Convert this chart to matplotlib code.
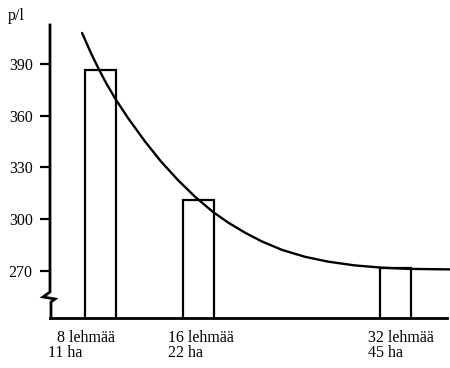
import numpy as np
import matplotlib.pyplot as plt

# bars: herd size (cows) and price per litre
cows = [8, 16, 32]
prices = [386.5, 311.2, 271.6]
labels_top = ["8 lehmää", "16 lehmää", "32 lehmää"]
labels_bottom = ["11 ha", "22 ha", "45 ha"]

# cost curve
curve_x = [6.50, 7.23, 7.88, 8.45, 9.18, 10.24, 11.62, 12.92, 14.30, 15.68, 17.15,
           18.37, 19.75, 21.13, 22.76, 24.63, 26.50, 28.69, 30.89, 33.00, 36.41]
curve_y = [408.0, 396.2, 386.7, 379.0, 370.1, 358.6, 345.0, 333.4, 322.6, 313.0, 304.1,
           298.0, 292.1, 287.0, 282.1, 278.1, 275.3, 273.1, 271.8, 271.1, 270.8]

yticks = [270, 300, 330, 360, 390]

# label offsets in pixels from the bar centre (first line, second line)
offs_top = [-44, -31, -28]
offs_bottom = [-53, -31, -28]

plt.rcParams['font.family'] = ['Liberation Serif', 'DejaVu Serif']

fig = plt.figure(figsize=(4.5, 3.68), dpi=100)
ax = fig.add_axes([50 / 450, 1 - 318 / 368, 397 / 450, 293 / 368])

ax.bar(cows, prices, width=2.52, bottom=0, color='white', edgecolor='black',
       linewidth=1.6, zorder=2)
ax.plot(curve_x, curve_y, color='black', linewidth=1.7, clip_on=False,
        solid_joinstyle='round', solid_capstyle='round', zorder=3)

ax.set_xlim(3.894, 36.17)
ax.set_ylim(242.6, 412.6)

ax.set_yticks(yticks)
ax.tick_params(axis='y', length=7, width=1.6, pad=5.5, labelsize=11.5)
ax.set_xticks([])

for s in ['top', 'right', 'left']:
    ax.spines[s].set_visible(False)
ax.spines['bottom'].set_linewidth(2)

# left axis with break mark (axes coordinates)
h = 293.0
brk_x = [0, 0, -7 / 397, 5 / 397, 1 / 397, 1 / 397]
brk_y = [1, (318 - 292) / h, (318 - 297) / h, (318 - 299) / h, (318 - 302) / h, 0]
ax.plot(brk_x, brk_y, color='black', linewidth=2, transform=ax.transAxes,
        clip_on=False, solid_joinstyle='miter')

# category labels under the axis
for c, t1, t2, o1, o2 in zip(cows, labels_top, labels_bottom, offs_top, offs_bottom):
    ax.annotate(t1, xy=(c, 0), xycoords=('data', 'axes fraction'),
                xytext=(o1, -20), textcoords='offset pixels',
                fontsize=11.5, ha='left', va='center')
    ax.annotate(t2, xy=(c, 0), xycoords=('data', 'axes fraction'),
                xytext=(o2, -35), textcoords='offset pixels',
                fontsize=11.5, ha='left', va='center')

fig.text(8 / 450, 1 - 16 / 368, "p/l", fontsize=11.5, ha='left', va='center')

fig.savefig("out.png", dpi=100)
